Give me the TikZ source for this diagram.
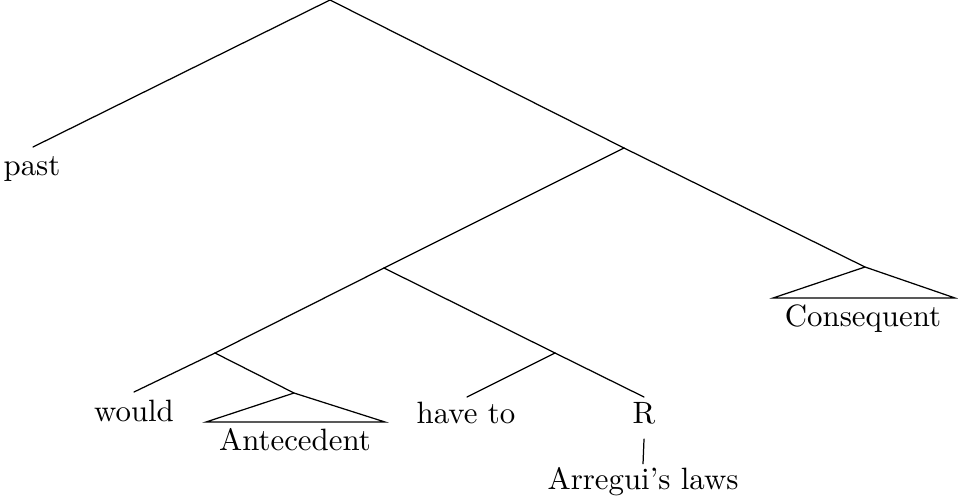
\documentclass[tikz,border=0pt]{standalone}
\usepackage{tikz}

\begin{document}
\begin{tikzpicture}[
  x=0.3241pt,y=-0.3241pt,
  lbl/.style={anchor=base,inner sep=0pt},
  branch/.style={line cap=round}
]
\useasboundingbox (0,0) rectangle (958,496);
% tree points
\coordinate (top) at (330,0);
\coordinate (past) at (33,147);
\coordinate (tp) at (624,148);
\coordinate (vp) at (384,268);
\coordinate (cons) at (865,267);
\coordinate (consL) at (773,298);
\coordinate (consR) at (955,298);
\coordinate (modal) at (215,353);
\coordinate (would) at (134,392);
\coordinate (ante) at (294,393);
\coordinate (anteL) at (206,422);
\coordinate (anteR) at (385,422);
\coordinate (rp) at (555,353);
\coordinate (haveto) at (467,397);
\coordinate (r) at (644,397);
% labels
\node[lbl] (pastlbl) at (32,175) {past};
\node[lbl] (consLbl) at (863,326) {Consequent};
\node[lbl] (wouldlbl) at (134,421) {would};
\node[lbl] (antelbl) at (295,450) {Antecedent};
\node[lbl] (havetolbl) at (466,423) {have to};
\node[lbl] (rlbl) at (644,423) {R};
\node[lbl] (arregui) at (643,489) {Arregui's laws};
% branches
\draw[branch] (top) -- (past);
\draw[branch] (top) -- (tp);
\draw[branch] (tp) -- (vp);
\draw[branch] (tp) -- (cons);
\draw[branch] (vp) -- (modal);
\draw[branch] (vp) -- (rp);
\draw[branch] (modal) -- (would);
\draw[branch] (modal) -- (ante);
\draw[branch] (rp) -- (haveto);
\draw[branch] (rp) -- (r);
\draw[branch] ([yshift=-4.8pt]rlbl.south) -- ([yshift=0.8pt]arregui.north);
% triangles
\draw (cons) -- (consL) -- (consR) -- cycle;
\draw (ante) -- (anteL) -- (anteR) -- cycle;
\end{tikzpicture}
\end{document}
